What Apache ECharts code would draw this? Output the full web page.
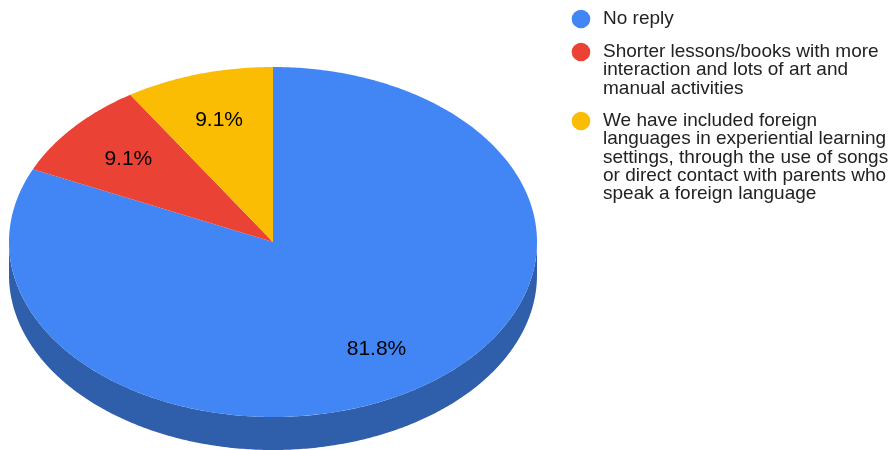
<!DOCTYPE html>
<html>
<head>
<meta charset="utf-8">
<script src="https://cdn.jsdelivr.net/npm/echarts@6/dist/echarts.min.js"></script>
<style>
  html, body { margin: 0; padding: 0; background: #fff; }
  #chart { width: 890px; height: 450px; }
</style>
</head>
<body>
<div id="chart"></div>
<script>
// Survey answers and how many respondents gave each
const categories = [
  'No reply',
  'Shorter lessons/books with more interaction and lots of art and manual activities',
  'We have included foreign languages in experiential learning settings, through the use of songs or direct contact with parents who speak a foreign language'
];
const values = [9, 1, 1];
const colors = ['#4285f4', '#ea4335', '#fbbc04'];
const sideColors = ['#2f5eab', '#a8302a', '#b58803'];

// Pie geometry (tilted disc)
const CX = 273, CY = 242, RX = 264, RY = 175, DEPTH = 33;
const LABEL_K = 0.725;

const total = values.reduce((a, b) => a + b, 0);
const starts = [];
values.reduce((acc, v) => { starts.push(acc); return acc + v; }, 0);

function pt(phi, k) {
  return [CX + RX * k * Math.sin(phi), CY - RY * k * Math.cos(phi)];
}
function arc(a0, a1, k, dy) {
  const n = Math.max(2, Math.ceil((a1 - a0) / 0.01));
  const out = [];
  for (let i = 0; i <= n; i++) {
    const p = pt(a0 + (a1 - a0) * i / n, k);
    out.push([p[0], p[1] + (dy || 0)]);
  }
  return out;
}

function renderSlice(params, api) {
  const v = api.value(0), s = api.value(1), idx = api.value(2);
  const a0 = s / total * Math.PI * 2;
  const a1 = (s + v) / total * Math.PI * 2;
  const children = [];

  // visible side wall: the front half of the disc
  const f0 = Math.max(a0, Math.PI / 2), f1 = Math.min(a1, Math.PI * 1.5);
  if (f1 > f0) {
    const topEdge = arc(f0, f1, 1, 0);
    const botEdge = arc(f0, f1, 1, DEPTH).reverse();
    children.push({
      type: 'polygon', z2: 1,
      shape: { points: topEdge.concat(botEdge) },
      style: { fill: sideColors[idx] }
    });
  }

  // top face
  children.push({
    type: 'polygon', z2: 10,
    shape: { points: [[CX, CY]].concat(arc(a0, a1, 1, 0)) },
    style: { fill: colors[idx] }
  });

  // percentage label
  const lp = pt((a0 + a1) / 2, LABEL_K);
  children.push({
    type: 'text', z2: 20,
    x: lp[0], y: lp[1],
    style: {
      text: (v / total * 100).toFixed(1) + '%',
      fill: '#000', font: '21px "Liberation Sans", Arial, sans-serif',
      align: 'center', verticalAlign: 'middle'
    }
  });
  return { type: 'group', children };
}

// Legend rows
const LEGEND_X = 581, LEGEND_TEXT_X = 603, LEGEND_ROWS = [19, 52, 121], LEGEND_LINE = 18.2;
const legendGraphics = [];
categories.forEach((c, i) => {
  legendGraphics.push({
    type: 'circle',
    shape: { cx: LEGEND_X, cy: LEGEND_ROWS[i], r: 9.3 },
    style: { fill: colors[i] }
  });
  legendGraphics.push({
    type: 'text',
    x: LEGEND_TEXT_X, y: LEGEND_ROWS[i] - LEGEND_LINE / 2,
    style: {
      text: c, width: 292, overflow: 'break',
      fill: '#222', font: '19px "Liberation Sans", Arial, sans-serif',
      lineHeight: LEGEND_LINE, verticalAlign: 'top', align: 'left'
    }
  });
});

const chart = echarts.init(document.getElementById('chart'), null, { renderer: 'canvas' });
chart.setOption({
  animation: false,
  series: [{
    type: 'custom',
    coordinateSystem: 'none',
    renderItem: renderSlice,
    data: values.map((v, i) => ({ name: categories[i], value: [v, starts[i], i] }))
  }],
  graphic: legendGraphics
});
</script>
</body>
</html>
